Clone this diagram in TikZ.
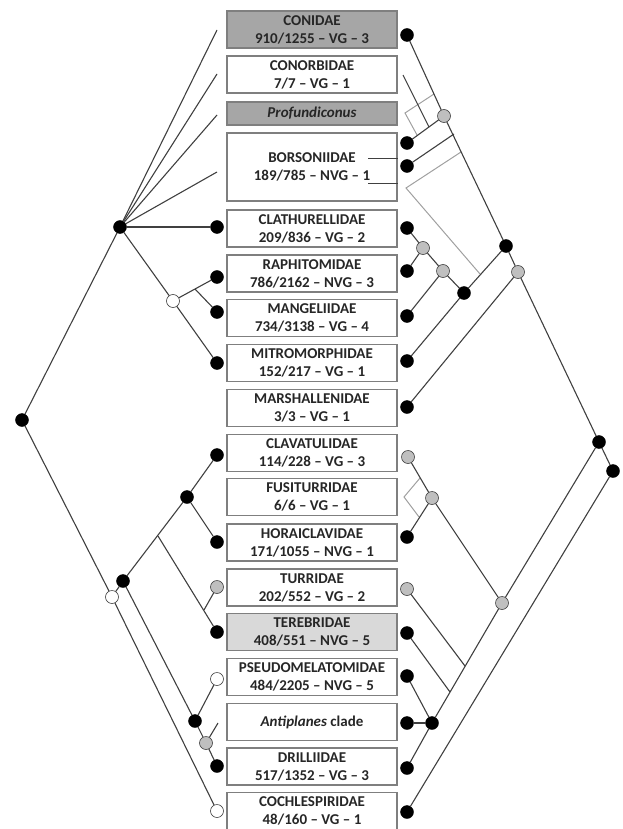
\documentclass[tikz,border=0pt]{standalone}
\usepackage{fontspec}
\setmainfont{Carlito}
\definecolor{boxdark}{HTML}{A6A6A6}
\definecolor{boxlight}{HTML}{D9D9D9}
\definecolor{boxline}{HTML}{7F7F7F}
\definecolor{treeline}{HTML}{404040}
\definecolor{altline}{HTML}{A0A0A0}
\definecolor{nodegray}{HTML}{BFBFBF}
\definecolor{txt}{HTML}{262626}
\begin{document}
\begin{tikzpicture}[x=1pt, y=-1pt,
  taxon/.style={draw=boxline, line width=1.4pt, minimum width=170pt, minimum height=37pt, inner sep=0pt, align=center, text=txt, font=\bfseries\fontsize{15}{18}\selectfont},
  blk/.style={shape=circle, draw=black, fill=black, inner sep=0pt, minimum size=13pt},
  gry/.style={shape=circle, draw=black!75, line width=0.6pt, fill=nodegray, inner sep=0pt, minimum size=13pt},
  wht/.style={shape=circle, draw=black!75, line width=0.6pt, fill=white, inner sep=0pt, minimum size=13pt},
  branch/.style={draw=treeline, line width=1.1pt},
  alt/.style={draw=altline, line width=1pt}]
\useasboundingbox (0,0) rectangle (622,829);
% taxa
\node[taxon, fill=boxdark] (conidae) at (312,29.5) {CONIDAE\\910/1255 – VG – 3};
\node[taxon] (conorbidae) at (312,74.5) {CONORBIDAE\\7/7 – VG – 1};
\node[taxon, fill=boxdark, minimum height=23pt] (profundiconus) at (312,113.5) {\itshape Profundiconus};
\node[taxon, minimum height=68pt] (borsoniidae) at (312,167) {BORSONIIDAE\\189/785 – NVG – 1};
\node[taxon] (clathurellidae) at (312,228.5) {CLATHURELLIDAE\\209/836 – VG – 2};
\node[taxon] (raphitomidae) at (312,273.5) {RAPHITOMIDAE\\786/2162 – NVG – 3};
\node[taxon] (mangeliidae) at (312,318) {MANGELIIDAE\\734/3138 – VG – 4};
\node[taxon] (mitromorphidae) at (312,363) {MITROMORPHIDAE\\152/217 – VG – 1};
\node[taxon] (marshallenidae) at (312,408) {MARSHALLENIDAE\\3/3 – VG – 1};
\node[taxon] (clavatulidae) at (312,453) {CLAVATULIDAE\\114/228 – VG – 3};
\node[taxon] (fusiturridae) at (312,497) {FUSITURRIDAE\\6/6 – VG – 1};
\node[taxon] (horaiclavidae) at (312,542.5) {HORAICLAVIDAE\\171/1055 – NVG – 1};
\node[taxon] (turridae) at (312,587.5) {TURRIDAE\\202/552 – VG – 2};
\node[taxon, fill=boxlight] (terebridae) at (312,632) {TEREBRIDAE\\408/551 – NVG – 5};
\node[taxon] (pseudomelatomidae) at (312,677) {PSEUDOMELATOMIDAE\\484/2205 – NVG – 5};
\node[taxon] (antiplanes) at (312,722) {\textit{Antiplanes} clade};
\node[taxon] (drilliidae) at (312,766.5) {DRILLIIDAE\\517/1352 – VG – 3};
\node[taxon] (cochlespiridae) at (312,811) {COCHLESPIRIDAE\\48/160 – VG – 1};
\coordinate (bl1) at (368,158); \coordinate (bl2) at (368,183);
\draw[treeline, line width=0.8pt] (bl1) -- (bl1 -| borsoniidae.east);
\draw[treeline, line width=0.8pt] (bl2) -- (bl2 -| borsoniidae.east);
% left tree
\coordinate (f1) at (217,30);
\coordinate (f2) at (217,74);
\coordinate (f3) at (217,115);
\coordinate (f4) at (217,172);
\coordinate (j1) at (195,289);
\coordinate (j2) at (158,536);
\coordinate (j3) at (204,610);
\coordinate (stubL) at (218,723);
\node[blk] (L0) at (22,420) {};
\node[blk] (L1) at (120,227) {};
\node[wht] (LW) at (173,301) {};
\node[wht] (LW2) at (112,597) {};
\node[blk] (LB) at (123,581) {};
\node[blk] (LB2) at (187,497) {};
\node[blk] (LB3) at (195,721) {};
\node[gry] (LG) at (206,743) {};
\node[blk] (lclath) at (217,227) {};
\node[blk] (lraph) at (217,277) {};
\node[blk] (lmang) at (217,312) {};
\node[blk] (lmitro) at (217,363) {};
\node[blk] (lclav) at (217,455) {};
\node[blk] (lhora) at (217,542) {};
\node[gry] (lturr) at (217,587) {};
\node[blk] (ltere) at (217,632) {};
\node[wht] (lpseudo) at (217,679) {};
\node[blk] (ldrill) at (217,766) {};
\node[wht] (lcochl) at (217,811) {};
\path[branch] (L0) edge (L1) edge (LW2);
\path[branch] (L1) edge (f1) edge (f2) edge (f3) edge (f4) edge (lclath) edge (LW);
\path[branch] (LW) edge (lmitro) edge (lraph);
\path[branch] (j1) edge (lmang);
\path[branch] (LW2) edge (LB) edge (lcochl);
\path[branch] (LB) edge (LB2) edge (LB3);
\path[branch] (LB2) edge (lclav) edge (lhora);
\path[branch] (j2) edge (ltere);
\path[branch] (j3) edge (lturr);
\path[branch] (LB3) edge (LG) edge (lpseudo);
\path[branch] (LG) edge (ldrill) edge (stubL);
% right tree
\coordinate (stubC) at (403,75);
\coordinate (jR0) at (429,127);
\coordinate (jR1) at (454,134);
\coordinate (jR2) at (465,666);
\coordinate (jR3) at (450,692);
\node[blk] (rcon) at (407,35) {};
\node[blk] (rbor1) at (407,143) {};
\node[blk] (rbor2) at (407,166) {};
\node[blk] (rclath) at (407,228) {};
\node[blk] (rraph) at (407,271) {};
\node[blk] (rmang) at (407,316) {};
\node[blk] (rmitro) at (407,361) {};
\node[blk] (rmarsh) at (407,407) {};
\node[gry] (rclav) at (408,457) {};
\node[blk] (rhora) at (407,537) {};
\node[gry] (rturr) at (407,589) {};
\node[blk] (rtere) at (407,633) {};
\node[blk] (rpseudo) at (407,676) {};
\node[blk] (ranti) at (407,723) {};
\node[blk] (rdrill) at (407,768) {};
\node[blk] (rcochl) at (407,812) {};
\node[gry] (RG1) at (444,116) {};
\node[blk] (RB1) at (506,246) {};
\node[gry] (RG2) at (423,248) {};
\node[gry] (RG3) at (443,271) {};
\node[blk] (RB2) at (464,293) {};
\node[gry] (RG4) at (518,272) {};
\node[blk] (RB3) at (599,442) {};
\node[blk] (RB4) at (613,471) {};
\node[gry] (RG5) at (432,498) {};
\node[gry] (RG6) at (502,603) {};
\node[blk] (RB5) at (432,723) {};
% alternative placements
\draw[alt] (434,94) -- (405,113) -- (417,135);
\draw[alt] (461,152) -- (406,188) -- (480,274);
\draw[alt] (420,478) -- (404,497) -- (419,517);
\path[branch] (rcon) edge (RG1);
\path[branch] (RG1) edge (RB1) edge (rbor1);
\path[branch] (stubC) edge (jR0);
\path[branch] (jR1) edge (rbor2);
\path[branch] (RB1) edge (RB2) edge (RG4);
\path[branch] (RB2) edge (RG3) edge (rmitro);
\path[branch] (RG3) edge (RG2) edge (rmang);
\path[branch] (RG2) edge (rclath) edge (rraph);
\path[branch] (RG4) edge (rmarsh) edge (RB3);
\path[branch] (RB3) edge (RB4) edge (RG6);
\path[branch] (RB4) edge (rcochl);
\path[branch] (RG6) edge (RG5) edge (RB5);
\path[branch] (RG5) edge (rclav) edge (rhora);
\path[branch] (jR2) edge (rturr);
\path[branch] (jR3) edge (rtere);
\path[branch] (RB5) edge (ranti) edge (rpseudo) edge (rdrill);
\end{tikzpicture}
\end{document}
